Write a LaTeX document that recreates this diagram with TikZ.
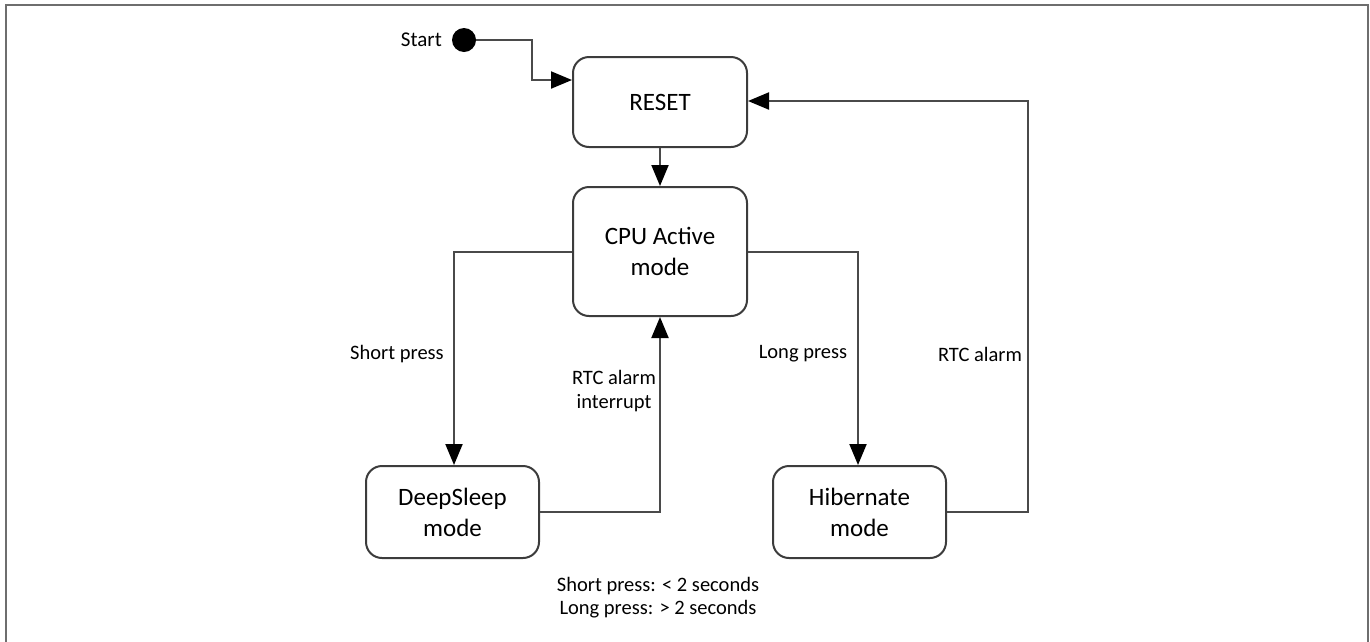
\documentclass[tikz,border=0pt]{standalone}
\usepackage{fontspec}
\setmainfont{Carlito}
\usetikzlibrary{arrows.meta}
\definecolor{boxline}{HTML}{3C3C3C}
\definecolor{wire}{HTML}{4A4A4A}
\definecolor{frame}{HTML}{6E6E6E}
\tikzset{
  state/.style={draw=boxline, line width=2pt, rounded corners=16pt, fill=white,
    align=center, font=\fontsize{25}{31}\selectfont, inner sep=0pt},
  link/.style={draw=wire, line width=2pt,
    -{Triangle[length=21pt,width=17pt,color=black,fill=black]}},
  lbl/.style={font=\fontsize{20.5}{24}\selectfont, align=center, inner sep=0pt},
}
\begin{document}
\begin{tikzpicture}[x=1pt,y=-1pt]
\useasboundingbox (0,0) rectangle (1370,641);
% outer frame
\draw[frame, line width=2pt] (6,645) -- (6,5) -- (1368,5) -- (1368,645);

% states
\node[state, minimum width=174pt, minimum height=90pt] (reset) at (660,102) {RESET};
\node[state, minimum width=174pt, minimum height=129pt] (cpu) at (660,251.5) {CPU Active\\mode};
\node[state, minimum width=173pt, minimum height=92pt] (deep) at (452.5,512) {DeepSleep\\mode};
\node[state, minimum width=173pt, minimum height=92pt] (hib) at (859.5,512) {Hibernate\\mode};

% initial pseudo-state
\node[circle, fill=black, minimum size=24pt, inner sep=0pt] (start) at (464,40) {};
\node[lbl, anchor=east, font=\fontsize{21}{24}\selectfont] (startlbl) at (442,40) {Start};

% junction points
\coordinate (s1) at (532,40);
\coordinate (s2) at (532,80);
\coordinate (l1) at (454,251.5);
\coordinate (d1) at (660,512);
\coordinate (r1) at (858,251.5);
\coordinate (h1) at (1028,512);
\coordinate (h2) at (1028,101);

% transitions
\draw[link] (start.east) -- (s1) -- (s2) -- (s2 -| reset.west);
\draw[link] (reset.south) -- (cpu.north);
\draw[link] (cpu.west |- l1) -- (l1) -- (l1 |- deep.north);
\draw[link] (deep.east |- d1) -- (d1) -- (d1 |- cpu.south);
\draw[link] (cpu.east |- r1) -- (r1) -- (r1 |- hib.north);
\draw[link] (hib.east |- h1) -- (h1) -- (h2) -- (h2 -| reset.east);

% transition labels
\node[lbl] (lshort) at (397,354) {Short press};
\node[lbl] (lrtci) at (614,391) {RTC alarm\\interrupt};
\node[lbl] (llong) at (803,354) {Long press};
\node[lbl] (lrtc) at (980,354) {RTC alarm};

% legend
\node[lbl, font=\fontsize{20.5}{23}\selectfont] (legend) at (658,598) {Short press: < 2 seconds\\Long press: > 2 seconds};
\end{tikzpicture}
\end{document}
